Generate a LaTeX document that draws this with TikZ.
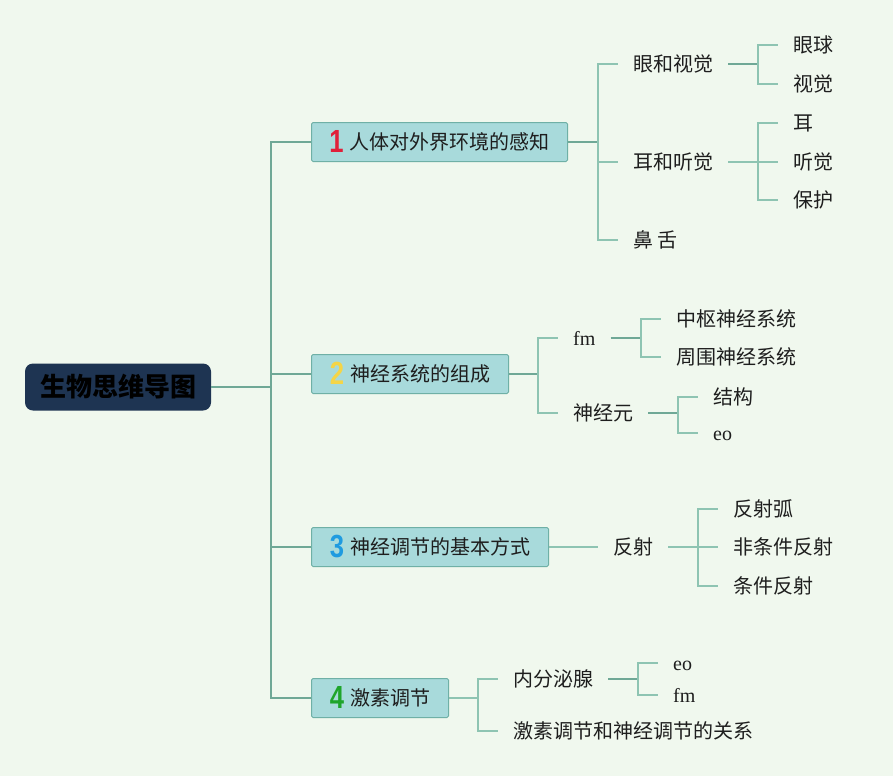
\documentclass[tikz,border=0pt]{standalone}
\usepackage{fontspec}
\setmainfont{Noto Sans CJK SC}
\newfontfamily\latf{Liberation Serif}
\newfontfamily\numf{Liberation Sans}
\definecolor{bg}{HTML}{F0F8EE}
\definecolor{boxfill}{HTML}{A8DADB}
\definecolor{boxline}{HTML}{6FB0A6}
\definecolor{rootfill}{HTML}{1E3452}
\definecolor{lnA}{HTML}{6FA896}
\definecolor{lnB}{HTML}{8EC4B2}
\definecolor{txt}{HTML}{1E1E1E}
\definecolor{nred}{HTML}{E0203A}
\definecolor{nyel}{HTML}{F5D547}
\definecolor{nblu}{HTML}{1F9BE0}
\definecolor{ngrn}{HTML}{1FA52B}
\newcommand{\bnum}[2]{\raisebox{-3.2pt}{\scalebox{0.8}[1]{\numf\bfseries\fontsize{32}{32}\selectfont\color{#1}#2}}\hspace{6pt}}
\tikzset{
  rootbox/.style={rounded corners=8pt, fill=rootfill, minimum width=186pt, minimum height=47pt, inner sep=0pt,
    font=\fontsize{26}{30}\selectfont\bfseries, text=black},
  mainbox/.style={anchor=west, draw=boxline, line width=1pt, fill=boxfill, minimum height=39pt, inner sep=0pt,
    rounded corners=1.5pt, font=\fontsize{20}{24}\selectfont, text=txt, text height=16.6pt, text depth=1.4pt},
  leaf/.style={anchor=west, inner xsep=15pt, inner ysep=2pt, font=\fontsize{20}{24}\selectfont, text=txt,
    text height=16.6pt, text depth=1.4pt},
  trunk/.style={draw=lnA, line width=1.5pt},
  mid/.style={draw=lnA, line width=2pt},
  sub/.style={draw=lnB, line width=1.5pt},
}
\begin{document}
\begin{tikzpicture}[x=1pt,y=-1pt]
\useasboundingbox (0,0) rectangle (893,776);
\fill[bg] (0,0) rectangle (893,776);

% root
\node[rootbox] (root) at (118,387) {生物思维导图};

% main boxes
\node[mainbox, minimum width=256pt] (b1) at (311,142) {\bnum{nred}{1}人体对外界环境的感知};
\node[mainbox, minimum width=197pt] (b2) at (311,374) {\bnum{nyel}{2}神经系统的组成};
\node[mainbox, minimum width=237pt] (b3) at (311,547) {\bnum{nblu}{3}神经调节的基本方式};
\node[mainbox, minimum width=137pt] (b4) at (311,698) {\bnum{ngrn}{4}激素调节};

% trunk
\coordinate (t) at (271,387);
\draw[trunk] (root.east) -- (t);
\draw[trunk] (t) |- (b1.west);
\draw[trunk] (t) |- (b2.west);
\draw[trunk] (t) |- (b3.west);
\draw[trunk] (t) |- (b4.west);

% ---- branch 1
\node[leaf] (c11) at (618,64) {眼和视觉};
\node[leaf] (c12) at (618,162) {耳和听觉};
\node[leaf] (c13) at (618,240) {鼻 舌};
\coordinate (j1) at (598,142);
\draw[mid] (b1.east) -- (j1);
\draw[sub] (j1) |- (c11.west);
\draw[sub] (j1) |- (c12.west);
\draw[sub] (j1) |- (c13.west);

\node[leaf] (l111) at (778,45) {眼球};
\node[leaf] (l112) at (778,84) {视觉};
\coordinate (j11) at (758,64);
\draw[mid] (c11.east) -- (j11);
\draw[sub] (j11) |- (l111.west);
\draw[sub] (j11) |- (l112.west);

\node[leaf] (l121) at (778,123) {耳};
\node[leaf] (l122) at (778,162) {听觉};
\node[leaf] (l123) at (778,200) {保护};
\coordinate (j12) at (758,162);
\draw[sub] (c12.east) -- (j12);
\draw[sub] (j12) |- (l121.west);
\draw[sub] (j12) |- (l122.west);
\draw[sub] (j12) |- (l123.west);

% ---- branch 2
\node[leaf] (c21) at (558,338) {\latf fm};
\node[leaf] (c22) at (558,413) {神经元};
\coordinate (j2) at (538,374);
\draw[mid] (b2.east) -- (j2);
\draw[sub] (j2) |- (c21.west);
\draw[sub] (j2) |- (c22.west);

\node[leaf] (l211) at (661,319) {中枢神经系统};
\node[leaf] (l212) at (661,357) {周围神经系统};
\coordinate (j21) at (641,338);
\draw[mid] (c21.east) -- (j21);
\draw[sub] (j21) |- (l211.west);
\draw[sub] (j21) |- (l212.west);

\node[leaf] (l221) at (698,397) {结构};
\node[leaf] (l222) at (698,433) {\latf eo};
\coordinate (j22) at (678,413);
\draw[mid] (c22.east) -- (j22);
\draw[sub] (j22) |- (l221.west);
\draw[sub] (j22) |- (l222.west);

% ---- branch 3
\node[leaf] (c31) at (598,547) {反射};
\draw[sub] (b3.east) -- (c31.west);
\node[leaf] (l311) at (718,509) {反射弧};
\node[leaf] (l312) at (718,547) {非条件反射};
\node[leaf] (l313) at (718,586) {条件反射};
\coordinate (j31) at (698,547);
\draw[sub] (c31.east) -- (j31);
\draw[sub] (j31) |- (l311.west);
\draw[sub] (j31) |- (l312.west);
\draw[sub] (j31) |- (l313.west);

% ---- branch 4
\node[leaf] (c41) at (498,679) {内分泌腺};
\node[leaf] (c42) at (498,731) {激素调节和神经调节的关系};
\coordinate (j4) at (478,698);
\draw[sub] (b4.east) -- (j4);
\draw[sub] (j4) |- (c41.west);
\draw[sub] (j4) |- (c42.west);

\node[leaf] (l411) at (658,663) {\latf eo};
\node[leaf] (l412) at (658,695) {\latf fm};
\coordinate (j41) at (638,679);
\draw[mid] (c41.east) -- (j41);
\draw[sub] (j41) |- (l411.west);
\draw[sub] (j41) |- (l412.west);
\end{tikzpicture}
\end{document}
